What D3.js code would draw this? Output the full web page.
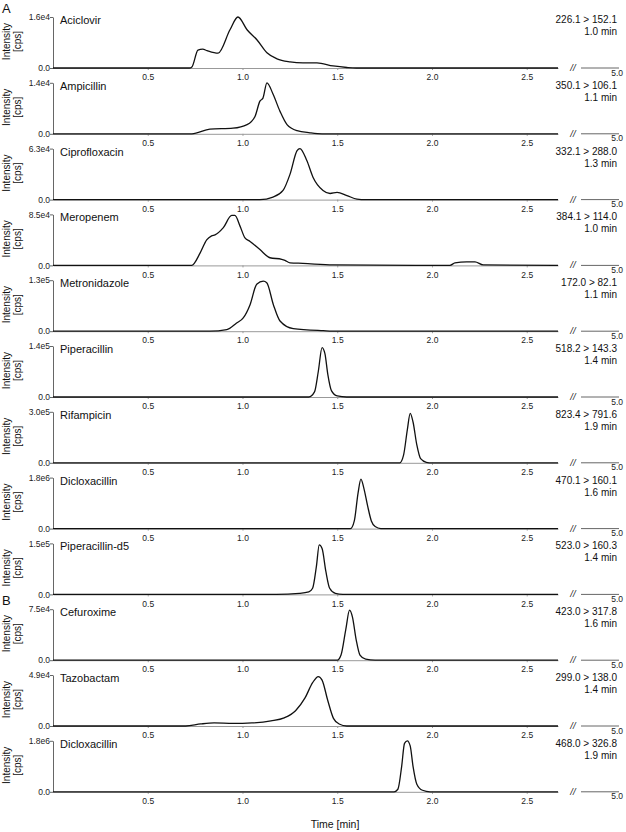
<!DOCTYPE html>
<html lang="en">
<head>
<meta charset="UTF-8">
<title>MRM chromatograms</title>
<script src="https://d3js.org/d3.v7.min.js"></script>
<style>
body { margin: 0; background: white; }
svg { display: block; font-family: "Liberation Sans", Arial, sans-serif; }
.tick text { font-size: 8.5px; fill: #222; }
</style>
</head>
<body>
<script>
const compounds = ['Aciclovir', 'Ampicillin', 'Ciprofloxacin', 'Meropenem', 'Metronidazole', 'Piperacillin',
  'Rifampicin', 'Dicloxacillin', 'Piperacillin-d5', 'Cefuroxime', 'Tazobactam', 'Dicloxacillin'];
const maxLabels = ['1.6e4', '1.4e4', '6.3e4', '8.5e4', '1.3e5', '1.4e5', '3.0e5', '1.8e6', '1.5e5', '7.5e4', '4.9e4', '1.8e6'];
const maxValues = [1.6e4, 1.4e4, 6.3e4, 8.5e4, 1.3e5, 1.4e5, 3.0e5, 1.8e6, 1.5e5, 7.5e4, 4.9e4, 1.8e6];
const transitions = ['226.1 > 152.1', '350.1 > 106.1', '332.1 > 288.0', '384.1 > 114.0', '172.0 > 82.1', '518.2 > 143.3',
  '823.4 > 791.6', '470.1 > 160.1', '523.0 > 160.3', '423.0 > 317.8', '299.0 > 138.0', '468.0 > 326.8'];
const retention = ['1.0 min', '1.1 min', '1.3 min', '1.0 min', '1.1 min', '1.4 min',
  '1.9 min', '1.6 min', '1.4 min', '1.6 min', '1.4 min', '1.9 min'];
const groupLetters = [{ label: 'A', panel: 0 }, { label: 'B', panel: 9 }];
const xTicks = [0.5, 1.0, 1.5, 2.0, 2.5];

// traces: [time (min), fraction of top tick value]
const aciclovir = [[0, 0], [0.72, 0], [0.733, 0.02], [0.765, 0.35], [0.79, 0.37], [0.813, 0.34], [0.871, 0.29], [0.934, 0.75],
  [0.976, 1.0], [1.024, 0.75], [1.077, 0.55], [1.129, 0.3], [1.182, 0.18], [1.251, 0.12], [1.319, 0.1], [1.393, 0.1],
  [1.478, 0.04], [1.551, 0.01], [1.6, 0], [2.665, 0]];
const ampicillin = [[0, 0], [0.733, 0], [0.828, 0.09], [0.95, 0.11], [1.024, 0.18], [1.066, 0.34], [1.092, 0.64],
  [1.108, 0.7], [1.129, 1.0], [1.161, 0.78], [1.198, 0.44], [1.235, 0.18], [1.288, 0.06], [1.356, 0.02], [1.42, 0], [2.665, 0]];
const ciprofloxacin = [[0, 0], [1.092, 0], [1.161, 0.05], [1.214, 0.18], [1.251, 0.5], [1.288, 0.96], [1.303, 1.0],
  [1.34, 0.76], [1.372, 0.44], [1.425, 0.18], [1.462, 0.12], [1.499, 0.14], [1.551, 0.08], [1.604, 0.01], [1.65, 0], [2.665, 0]];
const meropenem = [[0, 0], [0.732, 0], [0.776, 0.24], [0.811, 0.5], [0.837, 0.58], [0.855, 0.6], [0.899, 0.74],
  [0.943, 0.98], [0.96, 0.98], [0.987, 0.77], [1.013, 0.54], [1.04, 0.47], [1.092, 0.31], [1.145, 0.15], [1.207, 0.12],
  [1.224, 0.1], [1.251, 0.05], [1.319, 0.04], [1.478, 0.01], [2.095, 0], [2.121, 0.05], [2.183, 0.07], [2.227, 0.07],
  [2.27, 0.01], [2.665, 0]];
const metronidazole = [[0, 0], [0.828, 0], [0.917, 0.03], [0.969, 0.16], [1.004, 0.26], [1.04, 0.52], [1.075, 0.92],
  [1.11, 0.98], [1.128, 0.95], [1.163, 0.52], [1.198, 0.2], [1.268, 0.05], [1.426, 0.01], [1.5, 0], [2.665, 0]];
const piperacillin = [[0, 0], [1.35, 0], [1.38, 0.1], [1.4, 0.5], [1.42, 0.97], [1.435, 0.85], [1.45, 0.45],
  [1.47, 0.12], [1.5, 0.02], [1.55, 0], [2.665, 0]];
const rifampicin = [[0, 0], [1.83, 0], [1.85, 0.15], [1.87, 0.65], [1.885, 0.97], [1.9, 0.8], [1.92, 0.35],
  [1.94, 0.08], [1.97, 0.01], [2.0, 0], [2.665, 0]];
const dicloxacillinA = [[0, 0], [1.57, 0], [1.59, 0.15], [1.61, 0.7], [1.625, 0.97], [1.64, 0.8], [1.66, 0.45],
  [1.68, 0.15], [1.7, 0.04], [1.73, 0], [2.665, 0]];
const piperacillinD5 = [[0, 0], [1.18, 0], [1.3, 0.02], [1.35, 0.05], [1.37, 0.12], [1.39, 0.55], [1.405, 0.97],
  [1.42, 0.9], [1.44, 0.45], [1.46, 0.12], [1.49, 0.02], [1.53, 0], [2.665, 0]];
const cefuroxime = [[0, 0], [1.5, 0], [1.52, 0.1], [1.545, 0.6], [1.565, 0.98], [1.58, 0.85], [1.6, 0.4],
  [1.62, 0.1], [1.65, 0.02], [1.7, 0], [2.665, 0]];
const tazobactam = [[0, 0], [0.7, 0], [0.78, 0.04], [0.85, 0.06], [0.95, 0.05], [1.05, 0.06], [1.15, 0.1],
  [1.22, 0.16], [1.28, 0.3], [1.33, 0.55], [1.37, 0.85], [1.4, 0.97], [1.42, 0.9], [1.45, 0.5], [1.48, 0.15],
  [1.51, 0.04], [1.55, 0], [2.665, 0]];
const dicloxacillinB = [[0, 0], [1.8, 0], [1.82, 0.05], [1.84, 0.5], [1.855, 0.95], [1.87, 1.0], [1.885, 0.9],
  [1.9, 0.5], [1.92, 0.15], [1.95, 0.03], [1.99, 0], [2.665, 0]];
const traces = [aciclovir, ampicillin, ciprofloxacin, meropenem, metronidazole, piperacillin,
  rifampicin, dicloxacillinA, piperacillinD5, cefuroxime, tazobactam, dicloxacillinB];

const w = 626, h = 832;
const left = 53, axisEnd = 558;
const firstBase = 68, step = 65.8, panelH = 51;

const svg = d3.select('body').append('svg').attr('width', w).attr('height', h);

const x = d3.scaleLinear().domain([0, 2.665]).range([left, axisEnd]);

compounds.forEach((name, i) => {
  const base = firstBase + i * step;
  const y = d3.scaleLinear().domain([0, maxValues[i]]).range([base, base - panelH]);
  const g = svg.append('g');

  // x axis (broken after 2.7, resumes at 5.0)
  const xAxis = d3.axisBottom(x).tickValues(xTicks).tickFormat(d3.format('.1f')).tickSize(2).tickSizeOuter(0);
  const xa = g.append('g').attr('transform', 'translate(0,' + base + ')').call(xAxis);
  xa.select('.domain').attr('stroke', '#999');
  xa.selectAll('.tick line').attr('stroke', '#999');
  xa.selectAll('.tick text').attr('dy', '0.85em');

  g.append('text').attr('x', 573).attr('y', base + 3).attr('text-anchor', 'middle')
    .style('font-size', '9.5px').style('font-style', 'italic').attr('fill', '#222').text('//');
  g.append('line').attr('x1', 581).attr('x2', 619).attr('y1', base).attr('y2', base).attr('stroke', '#666');
  g.append('text').attr('x', 623).attr('y', base + 7.5).attr('text-anchor', 'end')
    .style('font-size', '8.5px').attr('fill', '#222').text('5.0');

  // y axis
  const yAxis = d3.axisLeft(y).tickValues([0, maxValues[i]]).tickSize(3).tickSizeOuter(0)
    .tickFormat((d, k) => k === 0 ? '0.0' : maxLabels[i]);
  const ya = g.append('g').attr('transform', 'translate(' + left + ',0)').call(yAxis);
  ya.select('.domain').attr('stroke', '#666');
  ya.selectAll('.tick line').attr('stroke', '#666');
  ya.selectAll('.tick text').attr('x', -3);

  // trace
  const line = d3.line().x(d => x(d[0])).y(d => y(d[1] * maxValues[i])).curve(d3.curveMonotoneX);
  g.append('path').datum(traces[i]).attr('d', line).attr('fill', 'none')
    .attr('stroke', '#111').attr('stroke-width', 1.3).attr('stroke-linejoin', 'round');

  // labels
  g.append('text').attr('x', 60).attr('y', base - panelH + 7).style('font-size', '11px').attr('fill', '#111').text(name);
  g.append('text').attr('x', 617).attr('y', base - panelH + 6).attr('text-anchor', 'end')
    .style('font-size', '10px').attr('fill', '#111').text(transitions[i]);
  g.append('text').attr('x', 617).attr('y', base - panelH + 18).attr('text-anchor', 'end')
    .style('font-size', '10px').attr('fill', '#111').text(retention[i]);

  const cy = base - panelH / 2 - 1;
  g.append('text').attr('transform', 'translate(10,' + cy + ') rotate(-90)').attr('text-anchor', 'middle')
    .style('font-size', '10px').attr('fill', '#111').text('Intensity');
  g.append('text').attr('transform', 'translate(21,' + cy + ') rotate(-90)').attr('text-anchor', 'middle')
    .style('font-size', '10px').attr('fill', '#111').text('[cps]');
});

groupLetters.forEach(d => {
  svg.append('text').attr('x', 2).attr('y', firstBase + d.panel * step - 55)
    .style('font-size', '13px').attr('fill', '#111').text(d.label);
});

svg.append('text').attr('x', 335).attr('y', 828).attr('text-anchor', 'middle')
  .style('font-size', '10.5px').attr('fill', '#111').text('Time [min]');
</script>
</body>
</html>
